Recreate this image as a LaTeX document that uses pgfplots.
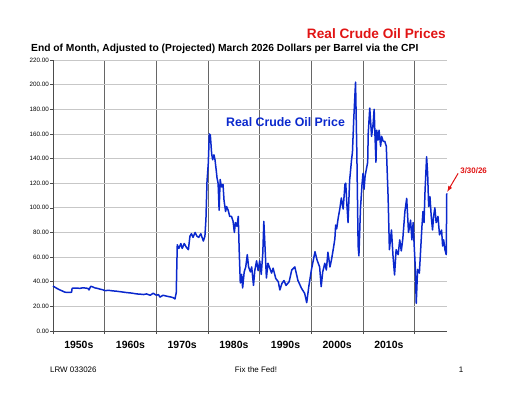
\documentclass[border=0pt]{standalone}
\usepackage{pgfplots}
\pgfplotsset{compat=1.18}
\usepackage{fontspec}
\setmainfont{Liberation Sans}
\definecolor{oilblue}{RGB}{10,40,205}
\definecolor{titlered}{RGB}{225,20,20}
\begin{document}
\begin{tikzpicture}[x=1bp,y=1bp]
\useasboundingbox (0,0) rectangle (512,396);
\begin{axis}[
  at={(53bp,65bp)}, anchor=south west,
  scale only axis, width=394bp, height=271bp,
  xmin=1950, xmax=2026.25, ymin=0, ymax=220,
  axis lines*=left,
  axis line style={black!70, line width=0.8bp},
  clip=false,
  xtick={1950,1960,...,2020}, xticklabels={},
  ytick={0,20,...,220},
  xmajorgrids, ymajorgrids,
  x grid style={black!60, line width=0.7bp},
  y grid style={black!22, line width=0.8bp},
  tick align=outside, major tick length=3bp,
  tick style={black!70, line width=0.6bp},
  /pgf/number format/assume math mode=true,
  yticklabel={\pgfmathprintnumber[fixed,fixed zerofill,precision=2]{\tick}},
  yticklabel style={font=\fontsize{6.3}{7}\selectfont, inner sep=1bp},
  extra x ticks={1955,1965,1975,1985,1995,2005,2015},
  extra x tick labels={1950s,1960s,1970s,1980s,1990s,2000s,2010s},
  extra x tick style={grid=none, major tick length=0pt,
    tick label style={font=\bfseries\fontsize{10.5}{12}\selectfont, yshift=-7bp}},
]
\addplot[oilblue, line width=1.5bp, line join=round] coordinates {
(1950.0,36.5) (1950.2,36.0) (1950.8,34.5) (1951.35,33.3) (1951.8,32.5) (1952.3,31.5)
(1953.0,31.3) (1953.6,31.5) (1953.7,34.7) (1954.5,34.9) (1955.2,34.6) (1955.8,35.1)
(1956.4,34.8) (1956.8,34.5) (1956.96,33.3) (1957.3,36.3) (1957.7,35.8) (1958.1,35.0)
(1958.6,34.6) (1959.1,34.0) (1959.6,33.5) (1960.06,32.8) (1960.8,33.0) (1961.5,32.6)
(1962.3,32.3) (1963.2,31.8) (1964.25,31.2) (1965.2,30.8) (1966.2,30.1) (1966.9,29.9)
(1967.5,29.6) (1968.1,30.1) (1968.8,29.0) (1969.4,30.7) (1969.7,29.8) (1970.06,29.0)
(1970.4,29.6) (1970.7,27.5) (1971.3,29.0) (1971.8,28.5) (1972.3,28.0) (1972.8,27.6)
(1973.3,27.0) (1973.6,26.0) (1973.85,31.0) (1974.05,70.0) (1974.35,67.0) (1974.75,71.0)
(1975.0,67.0) (1975.4,71.0) (1975.8,68.0) (1976.2,66.0) (1976.5,77.0) (1976.8,79.0)
(1977.1,76.0) (1977.5,80.0) (1977.85,77.0) (1978.2,76.0) (1978.6,79.0) (1979.1,73.0)
(1979.4,77.0) (1979.6,91.0) (1979.8,121.0) (1980.05,136.0) (1980.25,160.0) (1980.45,159.0)
(1980.7,144.0) (1980.9,139.0) (1981.15,143.0) (1981.35,139.0) (1981.6,130.0) (1981.75,124.0)
(1981.95,120.0) (1982.15,98.0) (1982.35,123.0) (1982.6,117.0) (1982.9,119.0) (1983.1,106.0)
(1983.4,97.0) (1983.6,101.0) (1983.9,98.0) (1984.2,93.0) (1984.55,93.0) (1984.85,89.0)
(1985.1,80.0) (1985.3,88.0) (1985.6,85.0) (1985.85,93.0) (1986.05,63.0) (1986.25,39.0)
(1986.5,46.0) (1986.7,35.0) (1987.0,48.0) (1987.3,52.0) (1987.6,62.0) (1987.85,52.0)
(1988.2,48.0) (1988.45,52.0) (1988.8,37.0) (1989.05,49.0) (1989.4,57.0) (1989.7,49.0)
(1990.0,57.0) (1990.3,46.0) (1990.6,63.0) (1990.8,89.0) (1991.0,71.0) (1991.3,43.0)
(1991.6,55.0) (1991.95,51.0)
(1992.3,47.0) (1992.6,51.0) (1993.1,42.7) (1993.6,40.0) (1993.9,33.3) (1994.3,38.6)
(1994.7,41.0) (1995.1,37.0) (1995.7,40.0) (1996.2,49.5) (1996.8,52.0) (1997.4,41.0)
(1998.1,34.6) (1998.7,30.6) (1999.1,23.0) (1999.5,36.0) (2000.0,49.5) (2000.7,64.4)
(2001.1,57.6) (2001.6,52.0) (2001.9,36.0) (2002.2,48.0) (2002.6,55.0) (2002.9,49.5)
(2003.2,64.0) (2003.6,52.0) (2003.9,58.0) (2004.3,68.0) (2004.55,75.0) (2004.7,86.0)
(2004.9,83.0) (2005.2,92.0) (2005.5,99.0) (2005.8,108.0) (2006.15,99.0) (2006.5,119.0)
(2006.65,120.0) (2006.9,101.0) (2007.1,88.0) (2007.4,122.0) (2007.8,140.0) (2007.95,145.0)
(2008.2,172.0) (2008.55,202.0) (2008.8,145.0) (2009.05,69.0) (2009.2,61.0) (2009.5,99.0)
(2009.8,119.0) (2010.0,128.0) (2010.2,115.0) (2010.4,126.0) (2010.9,137.0) (2011.0,160.0)
(2011.3,181.0) (2011.65,158.0) (2011.95,168.0) (2012.15,180.0) (2012.3,160.0) (2012.5,137.0)
(2012.65,163.0) (2012.9,155.0) (2013.1,163.0) (2013.4,150.0) (2013.6,158.0) (2013.9,154.0)
(2014.2,154.0) (2014.5,150.0) (2014.85,109.0) (2015.1,66.0) (2015.5,82.0) (2015.8,61.0)
(2016.1,45.5) (2016.4,66.0) (2016.8,62.0)
(2017.1,74.0) (2017.4,65.0) (2017.7,75.0) (2018.1,97.0) (2018.45,107.7) (2018.8,80.0)
(2019.2,90.0) (2019.45,74.0) (2019.7,88.0) (2019.9,69.0) (2020.1,52.7) (2020.3,22.5)
(2020.55,50.0) (2020.9,47.0) (2021.15,66.0) (2021.4,85.0) (2021.6,97.0) (2021.8,88.0)
(2022.0,114.0) (2022.3,141.5) (2022.5,128.0) (2022.7,101.0) (2022.95,109.0) (2023.2,93.0)
(2023.45,82.0) (2023.65,93.0) (2023.9,100.0) (2024.15,88.0) (2024.5,93.0) (2024.8,78.0)
(2025.2,82.0) (2025.4,69.0) (2025.6,74.0) (2025.85,66.0) (2026.1,62.0) (2026.2,111.7)
};
\node[text=oilblue, font=\bfseries\fontsize{12.4}{14}\selectfont] at (axis cs:1995,170) {Real Crude Oil Price};
\node[text=titlered, font=\bfseries\fontsize{8}{9}\selectfont] at (axis cs:2031.4,130) {3/30/26};
\draw[titlered, line width=1bp, -{latex}] (axis cs:2028.4,128) -- (axis cs:2026.3,113);
\end{axis}
\node[anchor=east, text=titlered, font=\bfseries\fontsize{13.7}{15}\selectfont, inner sep=0pt] at (446,362) {Real Crude Oil Prices};
\node[anchor=west, font=\bfseries\fontsize{10.3}{12}\selectfont, inner sep=0pt] at (31,346.7) {End of Month, Adjusted to (Projected) March 2026 Dollars per Barrel via the CPI};
\node[anchor=west, font=\fontsize{8}{9}\selectfont, inner sep=0pt] at (50,26) {LRW 033026};
\node[font=\fontsize{8}{9}\selectfont, inner sep=0pt] at (256,26) {Fix the Fed!};
\node[font=\fontsize{8}{9}\selectfont, inner sep=0pt] at (461,26) {1};
\end{tikzpicture}
\end{document}
